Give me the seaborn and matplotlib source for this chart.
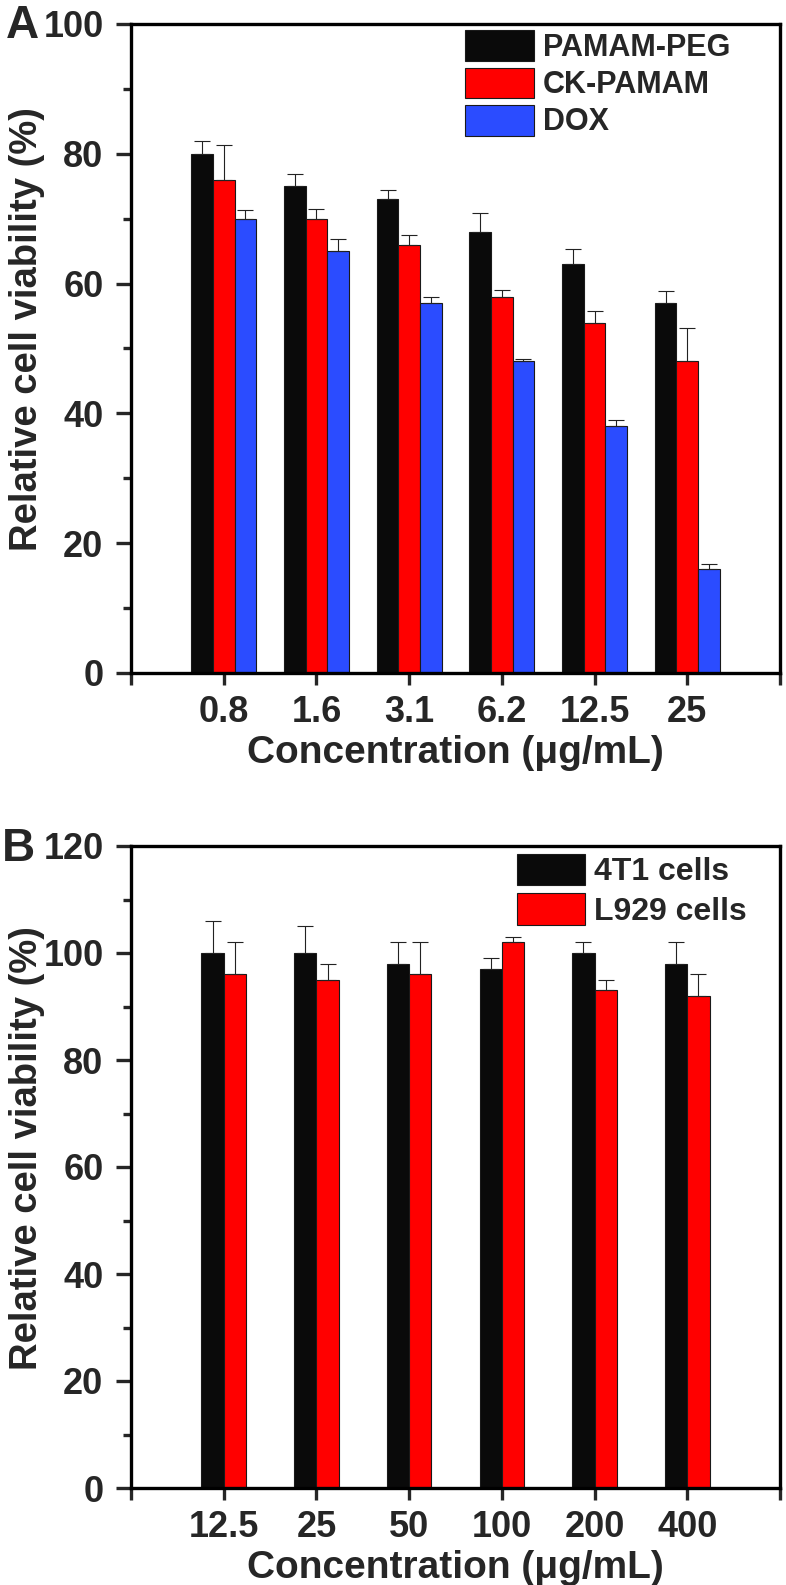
import pandas as pd
import seaborn as sns
import matplotlib.pyplot as plt
from matplotlib.patches import Patch
from matplotlib.ticker import MultipleLocator

# Panel A data (cytotoxicity)
conc_a = ['0.8', '1.6', '3.1', '6.2', '12.5', '25']
pamam_peg = [80, 75, 73, 68, 63, 57]
pamam_peg_sd = [2.0, 1.9, 1.4, 2.9, 2.3, 1.8]
ck_pamam = [76, 70, 66, 58, 54, 48]
ck_pamam_sd = [5.3, 1.5, 1.5, 1.0, 1.8, 5.1]
dox = [70, 65, 57, 48, 38, 16]
dox_sd = [1.3, 1.9, 1.0, 0.4, 1.0, 0.8]

# Panel B data (biocompatibility)
conc_b = ['12.5', '25', '50', '100', '200', '400']
cells_4t1 = [100, 100, 98, 97, 100, 98]
cells_4t1_sd = [6, 5, 4, 2, 2, 4]
cells_l929 = [96, 95, 96, 102, 93, 92]
cells_l929_sd = [6, 3, 6, 1, 2, 4]

groups_a = ['PAMAM-PEG', 'CK-PAMAM', 'DOX']
groups_b = ['4T1 cells', 'L929 cells']
colors_a = ['#0a0a0a', '#ff0000', '#2b4cff']
colors_b = ['#0a0a0a', '#ff0000']

sns.set_style('ticks')
plt.rcParams['font.family'] = ['Liberation Sans', 'DejaVu Sans']
plt.rcParams['font.weight'] = 'bold'
plt.rcParams['axes.labelweight'] = 'bold'

df_a = pd.DataFrame({
    'conc': conc_a * 3,
    'value': pamam_peg + ck_pamam + dox,
    'group': [g for g in groups_a for _ in conc_a],
})
df_b = pd.DataFrame({
    'conc': conc_b * 2,
    'value': cells_4t1 + cells_l929,
    'group': [g for g in groups_b for _ in conc_b],
})

fig = plt.figure(figsize=(7.86, 15.85), dpi=100)
W, H = 786, 1585
ax1 = fig.add_axes([131 / W, 1 - 673 / H, 649 / W, 649 / H])
ax2 = fig.add_axes([131 / W, 1 - 1488 / H, 649 / W, 642 / H])


def draw_panel(ax, df, order, groups, colors, sds, width, ymax, label_y):
    sns.barplot(data=df, x='conc', y='value', hue='group', order=order,
                hue_order=groups, palette=colors, width=width, errorbar=None,
                edgecolor='#1a1a1a', linewidth=0.8, saturation=1,
                legend=False, ax=ax)
    # upward-only error bars at each bar centre
    for cont, sd in zip(ax.containers, sds):
        xs = [p.get_x() + p.get_width() / 2 for p in cont.patches]
        ys = [p.get_height() for p in cont.patches]
        ax.errorbar(xs, ys, yerr=[[0] * len(sd), sd], fmt='none',
                    ecolor='#222222', elinewidth=0.8, capsize=6,
                    capthick=0.8, zorder=1)
    ax.set_xlim(-1, len(order))
    ax.set_xticks(range(-1, len(order) + 1))
    ax.set_xticklabels([''] + order + [''])
    ax.set_ylim(0, ymax)
    ax.yaxis.set_major_locator(MultipleLocator(20))
    ax.yaxis.set_minor_locator(MultipleLocator(10))
    for s in ax.spines.values():
        s.set_visible(True)
        s.set_linewidth(2.4)
        s.set_color('black')
    ax.tick_params(axis='y', which='major', direction='out', length=10.8,
                   width=2.4, labelsize=26, pad=9)
    ax.tick_params(axis='y', which='minor', direction='out', length=5.5,
                   width=2.4)
    ax.tick_params(axis='x', which='major', direction='out', length=8.6,
                   width=2.4, labelsize=26, pad=7.5)
    for t in ax.get_xticklabels() + ax.get_yticklabels():
        t.set_fontweight('bold')
    ax.set_xlabel('Concentration (μg/mL)', fontsize=28, labelpad=3)
    ax.set_ylabel('Relative cell viability (%)', fontsize=27.5)
    ax.yaxis.set_label_coords(-0.133, label_y)


draw_panel(ax1, df_a, conc_a, groups_a, colors_a,
           [pamam_peg_sd, ck_pamam_sd, dox_sd], 0.70, 100, 0.53)
draw_panel(ax2, df_b, conc_b, groups_b, colors_b,
           [cells_4t1_sd, cells_l929_sd], 0.48, 120, 0.53)

handles_a = [Patch(facecolor=c, edgecolor='#1a1a1a', linewidth=0.8, label=g)
             for c, g in zip(colors_a, groups_a)]
ax1.legend(handles=handles_a, loc='upper left', bbox_to_anchor=(0.515, 0.99),
           frameon=False, borderpad=0, borderaxespad=0, handlelength=2.25,
           handleheight=1.18, handletextpad=0.3, labelspacing=0.14,
           prop={'size': 22, 'weight': 'bold'})

handles_b = [Patch(facecolor=c, edgecolor='#1a1a1a', linewidth=0.8, label=g)
             for c, g in zip(colors_b, groups_b)]
ax2.legend(handles=handles_b, loc='upper left', bbox_to_anchor=(0.595, 0.988),
           frameon=False, borderpad=0, borderaxespad=0, handlelength=2.13,
           handleheight=1.12, handletextpad=0.28, labelspacing=0.2,
           prop={'size': 23, 'weight': 'bold'})

fig.text(6 / W, 1 - 38 / H, 'A', fontsize=33, fontweight='bold',
         va='baseline', ha='left')
fig.text(2 / W, 1 - 861 / H, 'B', fontsize=33, fontweight='bold',
         va='baseline', ha='left')

fig.savefig('out.png', dpi=100)
